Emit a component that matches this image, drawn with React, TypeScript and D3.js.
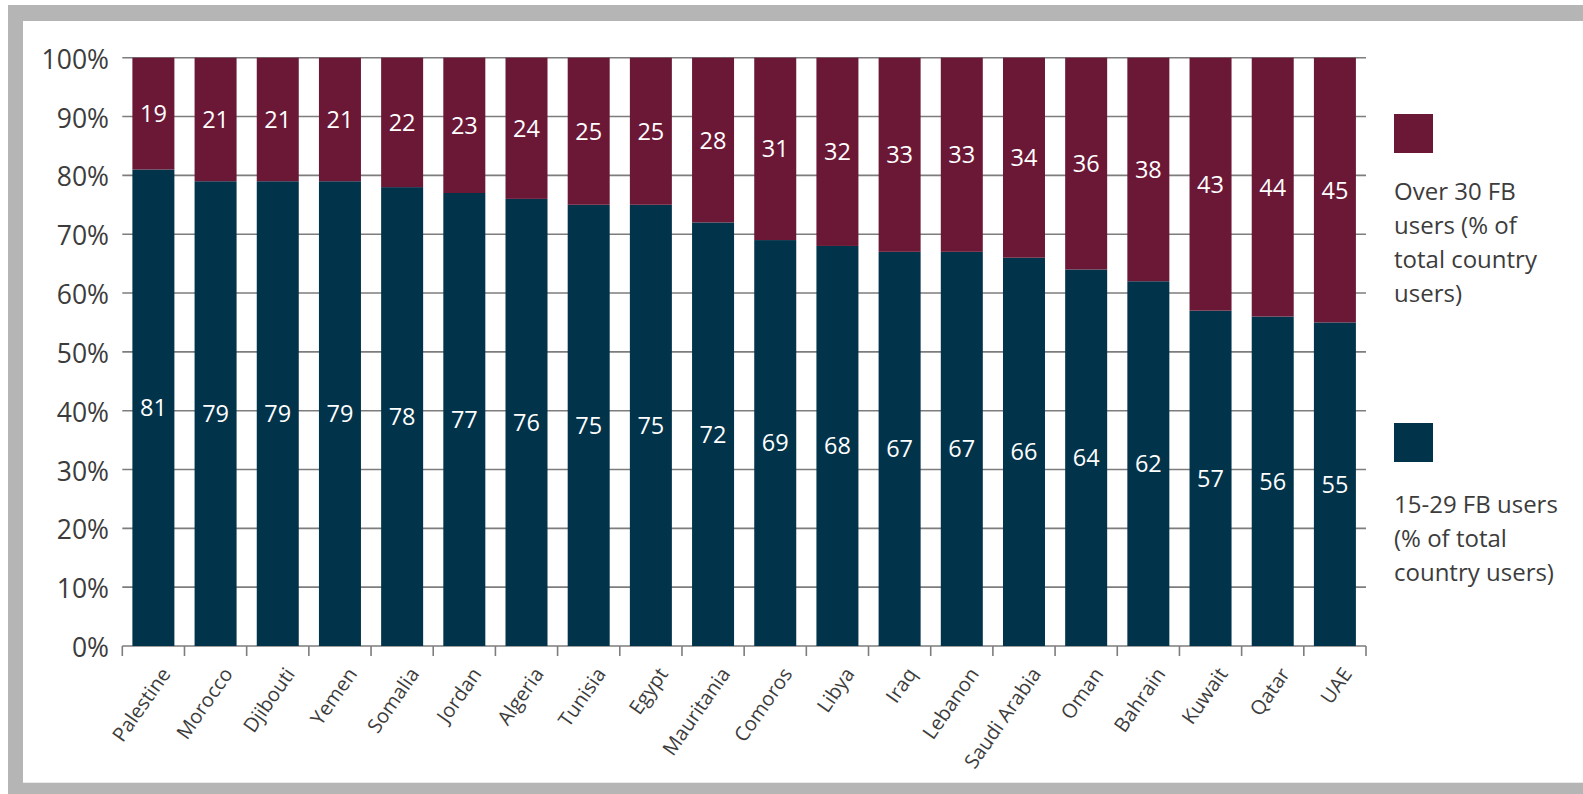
import React from "react";
import * as d3 from "d3";

// Facebook users by age group, share of each country's total users (%)
const countries = [
  "Palestine", "Morocco", "Djibouti", "Yemen", "Somalia", "Jordan", "Algeria",
  "Tunisia", "Egypt", "Mauritania", "Comoros", "Libya", "Iraq", "Lebanon",
  "Saudi Arabia", "Oman", "Bahrain", "Kuwait", "Qatar", "UAE",
];
const young = [81, 79, 79, 79, 78, 77, 76, 75, 75, 72, 69, 68, 67, 67, 66, 64, 62, 57, 56, 55];
const over30 = [19, 21, 21, 21, 22, 23, 24, 25, 25, 28, 31, 32, 33, 33, 34, 36, 38, 43, 44, 45];
const yTicks = [0, 10, 20, 30, 40, 50, 60, 70, 80, 90, 100];
const legendOver = ["Over 30 FB", "users (% of", "total country", "users)"];
const legendYoung = ["15-29 FB users", "(% of total", "country users)"];

const MAROON = "#6b1837";
const NAVY = "#01334a";
const GRID = "#7d7d7d";
const TEXT = "#3c3c3c";
const FONT = "'Open Sans', 'DejaVu Sans', sans-serif";

export default function App() {
  const W = 1583;
  const H = 794;
  const left = 122.3;
  const right = 1366;
  const top = 57.7;
  const bottom = 646;

  const x = d3.scaleBand<string>().domain(countries).range([left, right]).paddingInner(0);
  const bw = 42;
  const y = d3.scaleLinear().domain([0, 100]).range([bottom, top]);

  const rows = countries.map((c, i) => ({ c, a: young[i], b: over30[i] }));
  const tickXs = d3.range(countries.length + 1).map((i) => left + i * x.step());

  return (
    <svg
      width={W}
      height={H}
      style={{ position: "absolute", left: 0, top: 0, display: "block" }}
      fontFamily={FONT}
    >
      {/* frame */}
      <rect x={0} y={0} width={W} height={H} fill="#ffffff" />
      <rect x={8} y={5} width={W - 8} height={H - 5} fill="#b4b5b4" />
      <rect x={23} y={21} width={W - 23} height={782.7 - 21} fill="#ffffff" />

      {/* horizontal gridlines */}
      {yTicks.map((t) => (
        <line key={"g" + t} x1={left} x2={right} y1={y(t)} y2={y(t)} stroke={GRID} strokeWidth={1.6} />
      ))}
      {yTicks.map((t) => (
        <text
          key={"yl" + t}
          x={109}
          y={y(t)}
          dy="0.42em"
          textAnchor="end"
          fontSize={26.5}
          fill={TEXT}
        >
          {t}%
        </text>
      ))}

      {/* category ticks */}
      {tickXs.map((tx, i) => (
        <line key={"t" + i} x1={tx} x2={tx} y1={bottom} y2={bottom + 10} stroke={GRID} strokeWidth={1.6} />
      ))}

      {/* stacked bars */}
      {rows.map((r) => {
        const cx = (x(r.c) as number) + x.bandwidth() / 2;
        return (
          <g key={r.c}>
            <rect x={cx - bw / 2} y={y(r.a)} width={bw} height={y(0) - y(r.a)} fill={NAVY} />
            <rect x={cx - bw / 2} y={y(r.a + r.b)} width={bw} height={y(r.a) - y(r.a + r.b)} fill={MAROON} />
            <text x={cx} y={y(r.a / 2)} dy="0.36em" textAnchor="middle" fontSize={23.5} fill="#ffffff">
              {r.a}
            </text>
            <text x={cx} y={y(r.a + r.b / 2)} dy="0.36em" textAnchor="middle" fontSize={23.5} fill="#ffffff">
              {r.b}
            </text>
          </g>
        );
      })}

      {/* category labels */}
      {rows.map((r) => {
        const cx = (x(r.c) as number) + x.bandwidth() / 2;
        return (
          <text
            key={"xl" + r.c}
            transform={`translate(${cx + 18},${bottom + 28}) rotate(-55)`}
            textAnchor="end"
            fontSize={20}
            fill={TEXT}
          >
            {r.c}
          </text>
        );
      })}

      {/* legend */}
      <rect x={1394} y={114} width={39} height={39} fill={MAROON} />
      {legendOver.map((s, i) => (
        <text key={"lo" + i} x={1394} y={200 + i * 34} fontSize={24} fill={TEXT}>
          {s}
        </text>
      ))}
      <rect x={1394} y={423} width={39} height={39} fill={NAVY} />
      {legendYoung.map((s, i) => (
        <text key={"ly" + i} x={1394} y={513 + i * 34} fontSize={24} fill={TEXT}>
          {s}
        </text>
      ))}
    </svg>
  );
}
